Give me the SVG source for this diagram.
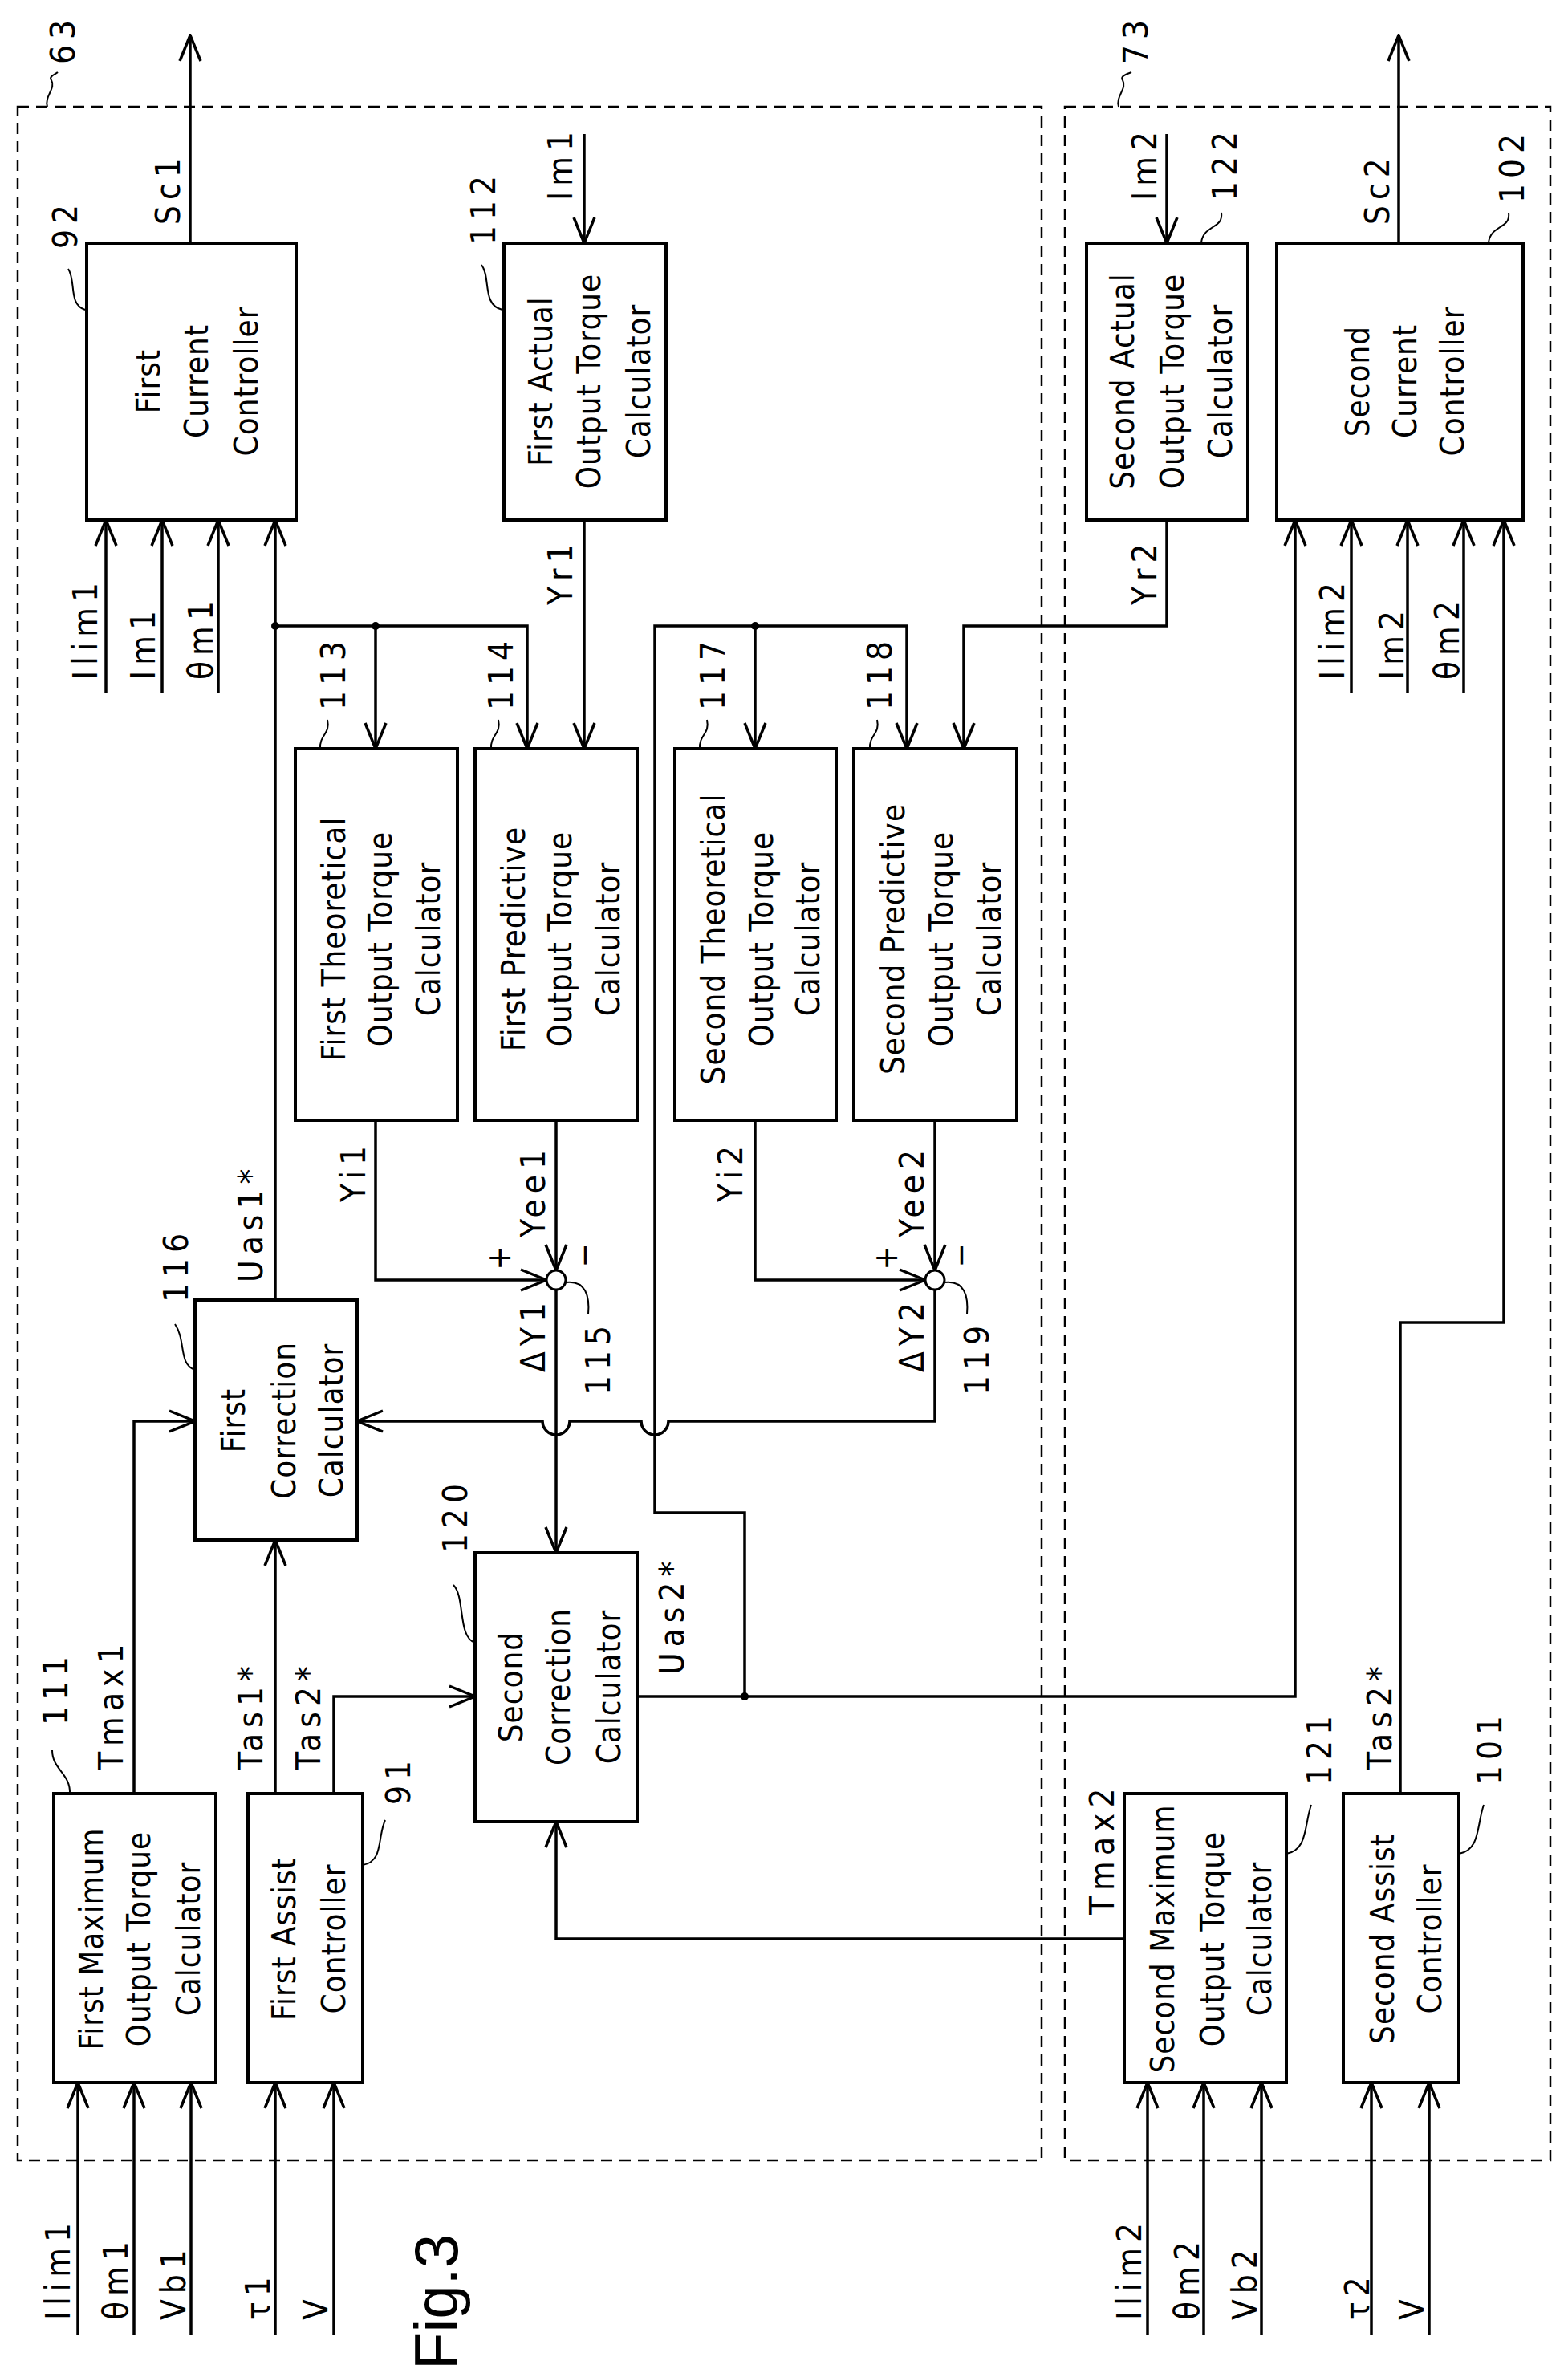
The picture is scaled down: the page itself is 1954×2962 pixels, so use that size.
<svg xmlns="http://www.w3.org/2000/svg" width="1954" height="2962" viewBox="0 0 1954 2962">
<style>
text{font-family:"DejaVu Sans Condensed","DejaVu Sans",sans-serif;font-size:42px;fill:#000;letter-spacing:7px}
.c{text-anchor:middle;font-size:40px;letter-spacing:1px}
.box{fill:#fff;stroke:#000;stroke-width:4}
.dash{fill:none;stroke:#000;stroke-width:2.5;stroke-dasharray:14 9}
.ln{fill:none;stroke:#000;stroke-width:3.5}
.ld{fill:none;stroke:#000;stroke-width:2}
.fig{font-family:"Liberation Sans",sans-serif;font-size:76px;letter-spacing:0}
</style>
<defs>
<marker id="a" markerUnits="userSpaceOnUse" markerWidth="36" markerHeight="36" viewBox="0 0 36 36" refX="34" refY="18" orient="auto">
<path d="M2,5 L34,18 L2,31" fill="none" stroke="#000" stroke-width="3.5"/>
</marker>
</defs>
<g id="frames">
<rect class="dash" x="22" y="133" width="1276" height="2559"/>
<rect class="dash" x="1327" y="133" width="605" height="2559"/>
<path class="ld" d="M59,133 C55,120 70,110 64,100 C60,95 70,92 72,90"/>
<text transform="translate(93,80) rotate(-90)">63</text>
<path class="ld" d="M1394,133 C1390,120 1405,110 1399,100 C1395,95 1405,92 1410,90"/>
<text transform="translate(1430,80) rotate(-90)">73</text>
</g>
<g id="connectors">
<path class="ln" marker-end="url(#a)" d="M237,303 V44"/>
<path class="ln" marker-end="url(#a)" d="M1743,303 V44"/>
<path class="ln" marker-end="url(#a)" d="M728,167 V303"/>
<path class="ln" marker-end="url(#a)" d="M1454,167 V303"/>
<path class="ln" marker-end="url(#a)" d="M132,863 V648"/>
<path class="ln" marker-end="url(#a)" d="M202,863 V648"/>
<path class="ln" marker-end="url(#a)" d="M272,863 V648"/>
<path class="ln" marker-end="url(#a)" d="M343,1620 V648"/>
<path class="ln" marker-end="url(#a)" d="M343,780 H657 V933"/>
<path class="ln" marker-end="url(#a)" d="M468,780 V933"/>
<path class="ln" marker-end="url(#a)" d="M728,648 V933"/>
<path class="ln" marker-end="url(#a)" d="M1684,863 V648"/>
<path class="ln" marker-end="url(#a)" d="M1754,863 V648"/>
<path class="ln" marker-end="url(#a)" d="M1824,863 V648"/>
<path class="ln" marker-end="url(#a)" d="M1454,648 V780 H1201 V933"/>
<path class="ln" marker-end="url(#a)" d="M794,2114 H1614 V648"/>
<path class="ln" marker-end="url(#a)" d="M928,2114 V1885 H816 V780 H1130 V933"/>
<path class="ln" marker-end="url(#a)" d="M941,780 V933"/>
<path class="ln" marker-end="url(#a)" d="M1745,2235 V1648 H1874 V648"/>
<path class="ln" marker-end="url(#a)" d="M468,1396 V1595 H681"/>
<path class="ln" marker-end="url(#a)" d="M693,1396 V1583"/>
<path class="ln" marker-end="url(#a)" d="M693,1607 V1935"/>
<path class="ln" marker-end="url(#a)" d="M941,1396 V1595 H1153"/>
<path class="ln" marker-end="url(#a)" d="M1165,1396 V1583"/>
<path class="ln" marker-end="url(#a)" d="M1165,1607 V1771 H833 A17,17 0 0 1 799,1771 H710 A17,17 0 0 1 676,1771 H445"/>
<path class="ln" marker-end="url(#a)" d="M167,2235 V1771 H243"/>
<path class="ln" marker-end="url(#a)" d="M343,2235 V1919"/>
<path class="ln" marker-end="url(#a)" d="M416,2235 V2114 H592"/>
<path class="ln" marker-end="url(#a)" d="M1401,2416 H693 V2270"/>
<path class="ln" marker-end="url(#a)" d="M97,2910 V2595"/>
<path class="ln" marker-end="url(#a)" d="M167,2910 V2595"/>
<path class="ln" marker-end="url(#a)" d="M238,2910 V2595"/>
<path class="ln" marker-end="url(#a)" d="M343,2910 V2595"/>
<path class="ln" marker-end="url(#a)" d="M416,2910 V2595"/>
<path class="ln" marker-end="url(#a)" d="M1430,2910 V2595"/>
<path class="ln" marker-end="url(#a)" d="M1500,2910 V2595"/>
<path class="ln" marker-end="url(#a)" d="M1572,2910 V2595"/>
<path class="ln" marker-end="url(#a)" d="M1709,2910 V2595"/>
<path class="ln" marker-end="url(#a)" d="M1781,2910 V2595"/>
<circle cx="343" cy="780" r="5"/><circle cx="468" cy="780" r="5"/>
<circle cx="941" cy="780" r="5"/><circle cx="928" cy="2114" r="5"/>
<text transform="translate(224,280) rotate(-90)">Sc1</text>
<text transform="translate(1731,280) rotate(-90)">Sc2</text>
<text transform="translate(713,250) rotate(-90)">Im1</text>
<text transform="translate(1441,250) rotate(-90)">Im2</text>
<text transform="translate(121,847) rotate(-90)">Ilim1</text>
<text transform="translate(193,847) rotate(-90)">Im1</text>
<text transform="translate(265,847) rotate(-90)">θm1</text>
<text transform="translate(1675,847) rotate(-90)">Ilim2</text>
<text transform="translate(1749,847) rotate(-90)">Im2</text>
<text transform="translate(1818,847) rotate(-90)">θm2</text>
<text transform="translate(713,754) rotate(-90)">Yr1</text>
<text transform="translate(1441,754) rotate(-90)">Yr2</text>
<text transform="translate(327,1598) rotate(-90)">Uas1*</text>
<text transform="translate(852,2087) rotate(-90)">Uas2*</text>
<text transform="translate(455,1498) rotate(-90)">Yi1</text>
<text transform="translate(679,1542) rotate(-90)">Yee1</text>
<text transform="translate(679,1710) rotate(-90)">ΔY1</text>
<text transform="translate(925,1498) rotate(-90)">Yi2</text>
<text transform="translate(1151,1542) rotate(-90)">Yee2</text>
<text transform="translate(1151,1710) rotate(-90)">ΔY2</text>
<text transform="translate(636,1567) rotate(-90)" class="c">+</text>
<text transform="translate(742,1564) rotate(-90)" class="c">−</text>
<text transform="translate(1118,1567) rotate(-90)" class="c">+</text>
<text transform="translate(1211,1564) rotate(-90)" class="c">−</text>
<text transform="translate(153,2206) rotate(-90)">Tmax1</text>
<text transform="translate(327,2206) rotate(-90)">Tas1*</text>
<text transform="translate(399,2206) rotate(-90)">Tas2*</text>
<text transform="translate(1388,2386) rotate(-90)">Tmax2</text>
<text transform="translate(1734,2206) rotate(-90)">Tas2*</text>
<text transform="translate(87,2891) rotate(-90)">Ilim1</text>
<text transform="translate(159,2891) rotate(-90)">θm1</text>
<text transform="translate(231,2891) rotate(-90)">Vb1</text>
<text transform="translate(336,2891) rotate(-90)">τ1</text>
<text transform="translate(408,2891) rotate(-90)">V</text>
<text transform="translate(1422,2891) rotate(-90)">Ilim2</text>
<text transform="translate(1494,2891) rotate(-90)">θm2</text>
<text transform="translate(1566,2891) rotate(-90)">Vb2</text>
<text transform="translate(1706,2891) rotate(-90)">τ2</text>
<text transform="translate(1774,2891) rotate(-90)">V</text>
</g>
<g id="n92"><rect class="box" x="108" y="303" width="261" height="345"/>
<text transform="translate(199,475) rotate(-90)" class="c">First</text>
<text transform="translate(259,475) rotate(-90)" class="c">Current</text>
<text transform="translate(321,475) rotate(-90)" class="c">Controller</text>
<path class="ld" d="M106,386 C85,380 95,350 85,335"/>
<text transform="translate(96,310) rotate(-90)">92</text></g>
<g id="n112"><rect class="box" x="628" y="303" width="202" height="345"/>
<text transform="translate(688,475) rotate(-90)" class="c">First Actual</text>
<text transform="translate(748,475) rotate(-90)" class="c">Output Torque</text>
<text transform="translate(810,475) rotate(-90)" class="c">Calculator</text>
<path class="ld" d="M626,386 C600,380 612,345 600,330"/>
<text transform="translate(617,305) rotate(-90)">112</text></g>
<g id="n122"><rect class="box" x="1354" y="303" width="201" height="345"/>
<text transform="translate(1413,475) rotate(-90)" class="c">Second Actual</text>
<text transform="translate(1475,475) rotate(-90)" class="c">Output Torque</text>
<text transform="translate(1535,475) rotate(-90)" class="c">Calculator</text>
<path class="ld" d="M1497,302 C1500,280 1525,285 1522,265"/>
<text transform="translate(1541,250) rotate(-90)">122</text></g>
<g id="n102"><rect class="box" x="1591" y="303" width="307" height="345"/>
<text transform="translate(1706,475) rotate(-90)" class="c">Second</text>
<text transform="translate(1765,475) rotate(-90)" class="c">Current</text>
<text transform="translate(1824,475) rotate(-90)" class="c">Controller</text>
<path class="ld" d="M1855,302 C1858,280 1883,285 1880,265"/>
<text transform="translate(1899,253) rotate(-90)">102</text></g>
<g id="n113"><rect class="box" x="368" y="933" width="202" height="463"/>
<text transform="translate(430,1170) rotate(-90)" class="c">First Theoretical</text>
<text transform="translate(488,1170) rotate(-90)" class="c">Output Torque</text>
<text transform="translate(548,1170) rotate(-90)" class="c">Calculator</text>
<path class="ld" d="M399,933 C398,915 412,915 408,897"/>
<text transform="translate(430,885) rotate(-90)">113</text></g>
<g id="n114"><rect class="box" x="592" y="933" width="202" height="463"/>
<text transform="translate(654,1170) rotate(-90)" class="c">First Predictive</text>
<text transform="translate(712,1170) rotate(-90)" class="c">Output Torque</text>
<text transform="translate(772,1170) rotate(-90)" class="c">Calculator</text>
<path class="ld" d="M612,933 C611,915 625,915 621,897"/>
<text transform="translate(639,885) rotate(-90)">114</text></g>
<g id="n117"><rect class="box" x="841" y="933" width="201" height="463"/>
<text transform="translate(903,1170) rotate(-90)" class="c">Second Theoretical</text>
<text transform="translate(963,1170) rotate(-90)" class="c">Output Torque</text>
<text transform="translate(1021,1170) rotate(-90)" class="c">Calculator</text>
<path class="ld" d="M872,933 C871,915 885,915 881,897"/>
<text transform="translate(903,885) rotate(-90)">117</text></g>
<g id="n118"><rect class="box" x="1064" y="933" width="203" height="463"/>
<text transform="translate(1127,1170) rotate(-90)" class="c">Second Predictive</text>
<text transform="translate(1187,1170) rotate(-90)" class="c">Output Torque</text>
<text transform="translate(1247,1170) rotate(-90)" class="c">Calculator</text>
<path class="ld" d="M1084,933 C1083,915 1097,915 1093,897"/>
<text transform="translate(1111,885) rotate(-90)">118</text></g>
<g id="n115"><circle cx="693" cy="1595" r="12" fill="#fff" stroke="#000" stroke-width="3"/>
<path class="ld" d="M705,1598 C730,1595 735,1615 733,1638"/>
<text transform="translate(760,1738) rotate(-90)">115</text></g>
<g id="n119"><circle cx="1165" cy="1595" r="12" fill="#fff" stroke="#000" stroke-width="3"/>
<path class="ld" d="M1177,1598 C1202,1595 1207,1615 1205,1638"/>
<text transform="translate(1232,1738) rotate(-90)">119</text></g>
<g id="n116"><rect class="box" x="243" y="1620" width="202" height="299"/>
<text transform="translate(305,1770) rotate(-90)" class="c">First</text>
<text transform="translate(368,1770) rotate(-90)" class="c">Correction</text>
<text transform="translate(427,1770) rotate(-90)" class="c">Calculator</text>
<path class="ld" d="M243,1707 C222,1700 232,1670 218,1650"/>
<text transform="translate(234,1623) rotate(-90)">116</text></g>
<g id="n120"><rect class="box" x="592" y="1935" width="202" height="335"/>
<text transform="translate(651,2102) rotate(-90)" class="c">Second</text>
<text transform="translate(710,2102) rotate(-90)" class="c">Correction</text>
<text transform="translate(773,2102) rotate(-90)" class="c">Calculator</text>
<path class="ld" d="M592,2047 C570,2040 580,1990 565,1975"/>
<text transform="translate(582,1935) rotate(-90)">120</text></g>
<g id="n111"><rect class="box" x="67" y="2235" width="202" height="360"/>
<text transform="translate(128,2416) rotate(-90)" class="c">First Maximum</text>
<text transform="translate(187,2416) rotate(-90)" class="c">Output Torque</text>
<text transform="translate(249,2416) rotate(-90)" class="c">Calculator</text>
<path class="ld" d="M87,2235 C88,2210 65,2205 65,2181"/>
<text transform="translate(84,2150) rotate(-90)">111</text></g>
<g id="n91"><rect class="box" x="309" y="2235" width="143" height="360"/>
<text transform="translate(368,2416) rotate(-90)" class="c">First Assist</text>
<text transform="translate(430,2416) rotate(-90)" class="c">Controller</text>
<path class="ld" d="M452,2324 C478,2320 470,2290 480,2268"/>
<text transform="translate(511,2249) rotate(-90)">91</text></g>
<g id="n121"><rect class="box" x="1401" y="2235" width="202" height="360"/>
<text transform="translate(1463,2416) rotate(-90)" class="c">Second Maximum</text>
<text transform="translate(1525,2416) rotate(-90)" class="c">Output Torque</text>
<text transform="translate(1584,2416) rotate(-90)" class="c">Calculator</text>
<path class="ld" d="M1603,2310 C1630,2305 1625,2275 1634,2249"/>
<text transform="translate(1659,2224) rotate(-90)">121</text></g>
<g id="n101"><rect class="box" x="1674" y="2235" width="144" height="360"/>
<text transform="translate(1737,2416) rotate(-90)" class="c">Second Assist</text>
<text transform="translate(1796,2416) rotate(-90)" class="c">Controller</text>
<path class="ld" d="M1818,2310 C1845,2305 1840,2275 1849,2249"/>
<text transform="translate(1871,2224) rotate(-90)">101</text></g>
<text class="fig" transform="translate(570,2953) rotate(-90)">Fig.3</text>
</svg>
